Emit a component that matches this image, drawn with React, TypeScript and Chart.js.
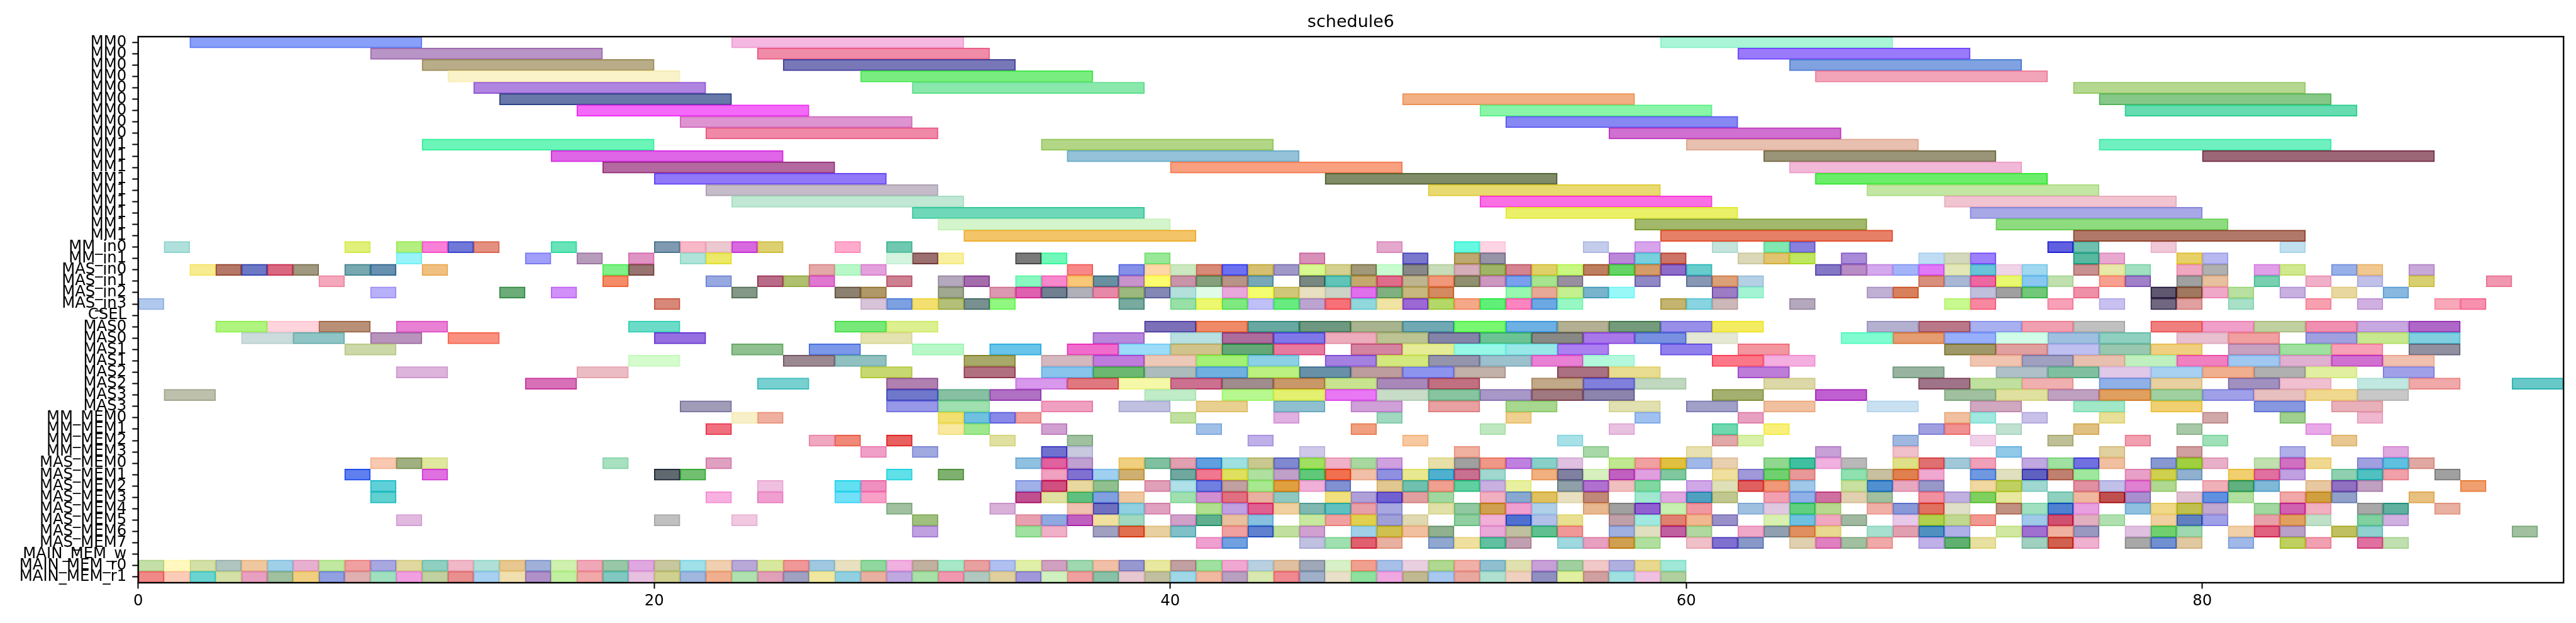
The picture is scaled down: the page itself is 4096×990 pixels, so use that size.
import React, { useEffect, useRef } from "react";
import { Chart, registerables } from "chart.js";
Chart.register(...registerables);

type Bar = [number, number, string];

const chartTitle = "schedule6";
const xTicks = [0, 20, 40, 60, 80];
const xMin = 0;
const xMax = 94;

const rowLabels = [
  "MM0", "MM0", "MM0", "MM0", "MM0", "MM0", "MM0", "MM0", "MM0",
  "MM1", "MM1", "MM1", "MM1", "MM1", "MM1", "MM1", "MM1", "MM1",
  "MM_in0", "MM_in1", "MAS_in0", "MAS_in1", "MAS_in2", "MAS_in3", "CSEL",
  "MAS0", "MAS0", "MAS1", "MAS1", "MAS2", "MAS2", "MAS3", "MAS3",
  "MM_MEM0", "MM_MEM1", "MM_MEM2", "MM_MEM3",
  "MAS_MEM0", "MAS_MEM1", "MAS_MEM2", "MAS_MEM3", "MAS_MEM4", "MAS_MEM5", "MAS_MEM6", "MAS_MEM7",
  "MAIN_MEM_w", "MAIN_MEM_r0", "MAIN_MEM_r1",
];

// MM0 rows
const r00: Bar[] = [[2, 11, "#89a0f8"], [23, 32, "#f5b8e0"], [59, 68, "#aaf5d8"]];
const r01: Bar[] = [[9, 18, "#b994c6"], [24, 33, "#f08ca8"], [62, 71, "#9a7afc"]];
const r02: Bar[] = [[11, 20, "#b8ad88"], [25, 34, "#7878b8"], [64, 73, "#80a2e0"]];
const r03: Bar[] = [[12, 21, "#faf2c8"], [28, 37, "#7aed80"], [65, 74, "#f2a4b8"]];
const r04: Bar[] = [[13, 22, "#b085e0"], [30, 39, "#8ae8ac"], [75, 84, "#b4d890"]];
const r05: Bar[] = [[14, 23, "#6878a8"], [49, 58, "#f2b084"], [76, 85, "#86c888"]];
const r06: Bar[] = [[17, 26, "#f46af8"], [52, 61, "#8af5a8"], [77, 86, "#66dcb0"]];
const r07: Bar[] = [[21, 30, "#de94d0"], [53, 62, "#8888f5"]];
const r08: Bar[] = [[22, 31, "#f088a8"], [57, 66, "#d070d0"]];
// MM1 rows
const r09: Bar[] = [[11, 20, "#6cf5b8"], [35, 44, "#b2d686"], [60, 69, "#e8c0b0"], [76, 85, "#70f0c0"]];
const r10: Bar[] = [[16, 25, "#e066e8"], [36, 45, "#94c2d8"], [63, 72, "#9a9478"], [80, 89, "#9c6878"]];
const r11: Bar[] = [[18, 27, "#b46aa0"], [40, 49, "#f8a080"], [64, 73, "#f2b8d8"]];
const r12: Bar[] = [[20, 29, "#9078f8"], [46, 55, "#808c68"], [65, 74, "#6ced6a"]];
const r13: Bar[] = [[22, 31, "#c4bcc8"], [50, 59, "#e8da70"], [67, 76, "#c4e6a4"]];
const r14: Bar[] = [[23, 32, "#c0e8d4"], [52, 61, "#fa70e4"], [70, 79, "#f0c4d0"]];
const r15: Bar[] = [[30, 39, "#6ed8b8"], [53, 62, "#eaf068"], [71, 80, "#a8a8e6"]];
const r16: Bar[] = [[31, 40, "#d4f5cc"], [58, 67, "#a2b86a"], [72, 81, "#8fdc80"]];
const r17: Bar[] = [[32, 41, "#f4c468"], [59, 68, "#e88068"], [75, 84, "#b07868"]];
// MM_in0
const r18: Bar[] = [[1, 2, "#b0e0dc"], [8, 9, "#e0f07a"], [10, 11, "#b4f080"], [11, 12, "#f880d8"], [12, 13, "#7078d8"], [13, 14, "#e49080"], [16, 17, "#68e4b8"], [20, 21, "#7e9ab0"], [21, 22, "#f8b8c8"], [22, 23, "#ecc8d0"], [23, 24, "#d868e0"], [24, 25, "#dcd070"], [27, 28, "#ffaacc"], [29, 30, "#70c8b0"], [48, 49, "#e4a8cc"], [51, 52, "#66f8e0"], [52, 53, "#ffd4e4"], [56, 57, "#c4cceb"], [58, 59, "#d8a4ec"], [61, 62, "#c4e4dc"], [63, 64, "#80e8b0"], [64, 65, "#8880dc"], [74, 75, "#6060e0"], [75, 76, "#70c0b0"], [78, 79, "#f0c8d8"], [83, 84, "#c0e0f0"]];
// MM_in1
const r19: Bar[] = [[10, 11, "#98f4f8"], [15, 16, "#a0a0f8"], [17, 18, "#b89cbc"], [19, 20, "#e094c4"], [21, 22, "#b0e4d8"], [22, 23, "#ece868"], [29, 30, "#d4f4e0"], [30, 31, "#9a7070"], [31, 32, "#f8f0a0"], [34, 35, "#7a7a7a"], [35, 36, "#70f8b8"], [39, 40, "#98e898"], [45, 46, "#d890b8"], [49, 50, "#7a78cc"], [51, 52, "#bca870"], [52, 53, "#9894a8"], [57, 58, "#bc88d8"], [58, 59, "#7ad0dc"], [59, 60, "#cc7468"], [62, 63, "#dad8b8"], [63, 64, "#e0c470"], [64, 65, "#c0e660"], [66, 67, "#a88ad8"], [69, 70, "#c0dcf4"], [70, 71, "#d4d8bc"], [71, 72, "#9c80fc"], [75, 76, "#58b8a0"], [76, 77, "#e8a8d0"], [79, 80, "#e8d068"], [80, 81, "#b8b8f0"]];
// MAS_in0
const r20: Bar[] = [[2, 3, "#f8ec90"], [3, 4, "#b47868"], [4, 5, "#6c78c4"], [5, 6, "#d86880"], [6, 7, "#a09880"], [8, 9, "#78a8b0"], [9, 10, "#6890b0"], [11, 12, "#f0c080"], [18, 19, "#80f088"], [19, 20, "#987470"], [26, 27, "#e4a8a8"], [27, 28, "#b8f8c8"], [28, 29, "#e4a0dc"], [36, 37, "#f88888"], [38, 39, "#8490e8"], [39, 40, "#ffd8a8"], [40, 41, "#cce8c0"], [41, 42, "#d88a78"], [42, 43, "#6a70f0"], [43, 44, "#d4c070"], [44, 45, "#a098c8"], [45, 46, "#d8f890"], [46, 47, "#d4d090"], [47, 48, "#a09878"], [48, 49, "#c8fcd0"], [49, 50, "#888888"], [50, 51, "#c8dcb8"], [51, 52, "#d4aeb8"], [52, 53, "#a0b468"], [53, 54, "#d48490"], [54, 55, "#e0d068"], [55, 56, "#c8f880"], [56, 57, "#bc8060"], [57, 58, "#64d464"], [58, 59, "#d49c68"], [59, 60, "#8c6cc8"], [60, 61, "#68cccc"], [65, 66, "#8478c4"], [66, 67, "#b88cc4"], [67, 68, "#d4a8ec"], [68, 69, "#a4b4f8"], [69, 70, "#e078f8"], [70, 71, "#e4e8b8"], [71, 72, "#68c4d8"], [72, 73, "#f0d4e8"], [73, 74, "#a0d8f0"], [75, 76, "#c89090"], [76, 77, "#e8e8a8"], [77, 78, "#a0e0c0"], [79, 80, "#f0a8c0"], [80, 81, "#b0b0b0"], [82, 83, "#e0a0e8"], [83, 84, "#d0e890"], [85, 86, "#98b0e8"], [86, 87, "#f0c890"], [88, 89, "#c8a8d8"]];
// MAS_in1
const r21: Bar[] = [[7, 8, "#f4a8bc"], [18, 19, "#f48c68"], [22, 23, "#98a8e0"], [24, 25, "#b86c88"], [25, 26, "#b0c070"], [26, 27, "#e078d0"], [29, 30, "#cc8090"], [31, 32, "#b4a8bc"], [32, 33, "#a46cac"], [34, 35, "#88f8c0"], [35, 36, "#f888cc"], [36, 37, "#f8c878"], [37, 38, "#6890a0"], [38, 39, "#c894cc"], [39, 40, "#fcfc70"], [40, 41, "#c894a8"], [41, 42, "#84a07c"], [42, 43, "#b89488"], [43, 44, "#78a8b8"], [45, 46, "#788880"], [46, 47, "#60c4b8"], [47, 48, "#c4a870"], [48, 49, "#e06c8c"], [49, 50, "#beb490"], [50, 51, "#f0987a"], [51, 52, "#909070"], [52, 53, "#cc98c0"], [53, 54, "#78a0ec"], [54, 55, "#a8e490"], [55, 56, "#9890a0"], [58, 59, "#9088c4"], [60, 61, "#8898b4"], [61, 62, "#dca078"], [62, 63, "#b4d0e4"], [69, 70, "#d8907c"], [70, 71, "#a8b8d4"], [71, 72, "#ec68a0"], [72, 73, "#e8f870"], [73, 74, "#88c8f0"], [74, 75, "#c0e0b0"], [76, 77, "#f8a090"], [77, 78, "#a080c8"], [79, 80, "#a0a0a0"], [80, 81, "#e8c0a0"], [82, 83, "#78d0b0"], [84, 85, "#f0b0c8"], [86, 87, "#c0c0e8"], [88, 89, "#d8d070"], [91, 92, "#f098b0"]];
// MAS_in2
const r22: Bar[] = [[9, 10, "#b8b0f8"], [14, 15, "#6cac78"], [16, 17, "#d090f8"], [23, 24, "#849888"], [27, 28, "#8c8070"], [28, 29, "#b09868"], [31, 32, "#a0a890"], [33, 34, "#dc98b0"], [34, 35, "#e060b0"], [35, 36, "#708090"], [36, 37, "#b0b0b8"], [37, 38, "#e888a8"], [38, 39, "#9cb880"], [39, 40, "#8488b4"], [40, 41, "#b4e0dc"], [41, 42, "#e0fce8"], [42, 43, "#e8a8dc"], [43, 44, "#f4fc70"], [44, 45, "#d0c878"], [45, 46, "#e8e0c0"], [46, 47, "#ccd4c8"], [47, 48, "#e070ec"], [48, 49, "#80b080"], [49, 50, "#c8b880"], [50, 51, "#d48a60"], [53, 54, "#98f8b0"], [54, 55, "#e8a898"], [55, 56, "#c4f090"], [56, 57, "#78b4cc"], [57, 58, "#98f8f8"], [61, 62, "#9c7cc4"], [62, 63, "#a4f4d4"], [67, 68, "#c0b0d4"], [68, 69, "#d8805c"], [71, 72, "#c0c0dc"], [72, 73, "#a0a0a0"], [73, 74, "#70c878"], [75, 76, "#f090a8"], [78, 79, "#605870"], [79, 80, "#a07860"], [80, 81, "#f0a8c8"], [81, 82, "#b8e0a0"], [83, 84, "#c8b0e0"], [85, 86, "#e8d8a0"], [87, 88, "#88b8e0"]];
// MAS_in3
const r23: Bar[] = [[0, 1, "#b0c8ec"], [20, 21, "#d88878"], [28, 29, "#d8c4d8"], [29, 30, "#7ca0e0"], [30, 31, "#f4e070"], [31, 32, "#b4c078"], [32, 33, "#789090"], [33, 34, "#90f880"], [38, 39, "#78aaa0"], [40, 41, "#98e0a8"], [41, 42, "#ecf870"], [42, 43, "#80e880"], [43, 44, "#c0c0f8"], [44, 45, "#68ec80"], [45, 46, "#bca4d0"], [46, 47, "#f87078"], [47, 48, "#90d8dc"], [48, 49, "#f0e4a4"], [49, 50, "#9c68d4"], [50, 51, "#b4d868"], [51, 52, "#f4a888"], [52, 53, "#60f078"], [53, 54, "#fc84c0"], [54, 55, "#6ca8e4"], [55, 56, "#98f8c4"], [59, 60, "#c4b470"], [60, 61, "#88d4e0"], [61, 62, "#ccb8b8"], [64, 65, "#b4a8bc"], [70, 71, "#c8f890"], [71, 72, "#f888a0"], [74, 75, "#f8a0b8"], [76, 77, "#c8c0f0"], [78, 79, "#706880"], [79, 80, "#e0a0a0"], [81, 82, "#a8e0c8"], [84, 85, "#f8a0b0"], [86, 87, "#d0b0e0"], [89, 90, "#f8a8b8"], [90, 91, "#f890b0"]];
// CSEL
const r24: Bar[] = [];
// MAS0
const r25: Bar[] = [[3, 5, "#b0f480"], [5, 7, "#ffd4dc"], [7, 9, "#b89078"], [10, 12, "#e880d4"], [19, 21, "#6cdcc8"], [27, 29, "#78e878"], [29, 31, "#dcf090"], [39, 41, "#7c70b8"], [41, 43, "#ee8a68"], [43, 45, "#68a8a0"], [45, 47, "#6e9880"], [47, 49, "#a8b490"], [49, 51, "#70a8b4"], [51, 53, "#78f870"], [53, 55, "#6cb0e4"], [55, 57, "#b4b094"], [57, 59, "#749c7c"], [59, 61, "#9890e8"], [61, 63, "#f4ec60"], [67, 69, "#b4b0d0"], [69, 71, "#b87888"], [71, 73, "#a8b0f0"], [73, 75, "#f0a0b0"], [75, 77, "#c0c0c0"], [78, 80, "#f08080"], [80, 82, "#f0a0c8"], [82, 84, "#c0d0a0"], [84, 86, "#f090b0"], [86, 88, "#c8a8e0"], [88, 90, "#b068c8"]];
const r26: Bar[] = [[4, 6, "#ccdcdc"], [6, 8, "#90c4c4"], [9, 11, "#b894bc"], [12, 14, "#fa9080"], [20, 22, "#9470e0"], [28, 30, "#e4e2b0"], [37, 39, "#b888dc"], [40, 42, "#b8e0e0"], [42, 44, "#ac6c9c"], [44, 46, "#8078e8"], [46, 48, "#ecacbc"], [48, 50, "#bcc494"], [50, 52, "#8484a8"], [52, 54, "#6cc494"], [54, 56, "#888884"], [56, 58, "#a878e8"], [58, 60, "#7890e0"], [60, 62, "#e4e8d4"], [66, 68, "#80fcd0"], [68, 70, "#e49c70"], [70, 72, "#98b0fc"], [72, 74, "#d0fce8"], [74, 76, "#a0c0e0"], [76, 78, "#90d0c0"], [79, 81, "#e8c0d0"], [81, 83, "#f0a0a0"], [84, 86, "#a0a0e0"], [86, 88, "#c8e890"], [88, 90, "#80d0e0"]];
// MAS1
const r27: Bar[] = [[8, 10, "#ccd8a8"], [23, 25, "#90c090"], [26, 28, "#7c98e8"], [30, 32, "#b8f8c8"], [33, 35, "#68c4e8"], [36, 38, "#f06ccc"], [38, 40, "#9cdcf8"], [40, 42, "#d0c48c"], [42, 44, "#64a878"], [44, 46, "#e87aa0"], [47, 49, "#d484a0"], [49, 51, "#e4ec98"], [51, 53, "#98f8e8"], [53, 55, "#98e8e8"], [55, 57, "#ac80f0"], [59, 61, "#9080ec"], [62, 64, "#f496a0"], [70, 72, "#a09868"], [72, 74, "#e0a0a0"], [74, 76, "#c0c0f0"], [76, 78, "#98c8b0"], [78, 80, "#f0d080"], [81, 83, "#c8a0c0"], [83, 85, "#a0e0a0"], [85, 87, "#f8a0b8"], [88, 90, "#9090a0"]];
const r28: Bar[] = [[19, 21, "#d4fccc"], [25, 27, "#9c8890"], [27, 29, "#90c0c0"], [32, 34, "#a8a868"], [35, 37, "#d4b8c0"], [37, 39, "#c07cdc"], [39, 41, "#ecc8b8"], [41, 43, "#a4f078"], [43, 45, "#8cd0e4"], [46, 48, "#a480e0"], [48, 50, "#d4e880"], [50, 52, "#9494ac"], [52, 54, "#9cc0cc"], [54, 56, "#e880d4"], [56, 58, "#b4f8dc"], [61, 63, "#fc7888"], [63, 65, "#f4aee0"], [71, 73, "#f0c4b0"], [73, 75, "#a0a0c0"], [75, 77, "#e8c0b0"], [77, 79, "#c0f0c0"], [79, 81, "#f080c0"], [81, 83, "#a0c8f0"], [83, 85, "#e0b0d0"], [85, 87, "#d070d0"], [87, 89, "#f0c0b0"]];
// MAS2
const r29: Bar[] = [[10, 12, "#dcb4dc"], [17, 19, "#ecbcc4"], [28, 30, "#c8d870"], [32, 34, "#b07080"], [35, 37, "#88c4ec"], [37, 39, "#6cb870"], [39, 41, "#acbcbc"], [41, 43, "#70b0e0"], [43, 45, "#bcf080"], [45, 47, "#6890a8"], [47, 49, "#bc9c9c"], [49, 51, "#8c94f0"], [51, 53, "#c0b0a8"], [55, 57, "#a87080"], [57, 59, "#e8dc90"], [62, 64, "#bc7cd8"], [68, 70, "#98b4a0"], [72, 74, "#b0c0c8"], [74, 76, "#80c0a0"], [76, 78, "#e0c8e8"], [78, 80, "#a8d0f0"], [80, 82, "#f0b090"], [82, 84, "#b0b0b0"], [84, 86, "#e0f0a0"], [87, 89, "#a0a0e8"]];
const r30: Bar[] = [[15, 17, "#d870b8"], [24, 26, "#78d0d0"], [29, 31, "#b080b0"], [34, 36, "#d898ec"], [36, 38, "#e07880"], [38, 40, "#f4f8a8"], [40, 42, "#cc7090"], [42, 44, "#a08c8c"], [44, 46, "#c89868"], [46, 48, "#c8e490"], [48, 50, "#a888b8"], [50, 52, "#c07080"], [54, 56, "#c0a888"], [56, 58, "#8080dc"], [58, 60, "#c0d8c0"], [63, 65, "#dcd8a8"], [69, 71, "#a07488"], [71, 73, "#c0e0a0"], [73, 75, "#f0b0b0"], [76, 78, "#90b0e8"], [78, 80, "#e8d0a0"], [81, 83, "#a090c0"], [83, 85, "#f0c0d0"], [86, 88, "#c0e8e0"], [88, 90, "#f0a8a8"], [92, 94, "#68c8c8"]];
// MAS3
const r31: Bar[] = [[1, 3, "#bcc0ac"], [29, 31, "#7078cc"], [31, 33, "#88c0a4"], [33, 35, "#b070c4"], [39, 41, "#c0ecc8"], [42, 44, "#b8f890"], [44, 46, "#e4f070"], [46, 48, "#e878f4"], [48, 50, "#c8dcc8"], [50, 52, "#88c4a0"], [52, 54, "#a898c8"], [54, 56, "#a07880"], [56, 58, "#8c84ac"], [61, 63, "#a4b070"], [65, 67, "#c060d0"], [70, 72, "#a0c0a0"], [72, 74, "#e0e0a0"], [74, 76, "#c0a0c0"], [76, 78, "#e0a060"], [78, 80, "#a0d0a0"], [80, 82, "#a0a0e8"], [82, 84, "#e8c0c0"], [84, 86, "#f0d890"], [86, 88, "#c8c8c8"]];
const r32: Bar[] = [[21, 23, "#a09cb8"], [29, 31, "#9898e8"], [31, 33, "#a0e0b0"], [35, 37, "#f0a0c0"], [38, 40, "#c0c0e0"], [41, 43, "#e8d090"], [44, 46, "#90c0d0"], [47, 49, "#d0a0d8"], [50, 52, "#e8a0a0"], [53, 55, "#a8d890"], [57, 59, "#e0e0b0"], [60, 62, "#a0a0c8"], [63, 65, "#f0c0a0"], [67, 69, "#c8e0f0"], [71, 73, "#d0a8c0"], [75, 77, "#a0e8c8"], [78, 80, "#f0d070"], [82, 84, "#8898e0"], [85, 87, "#e8b0b8"]];
// MM_MEM0..3
const r33: Bar[] = [[23, 24, "#f8f0c8"], [24, 25, "#f0b0a0"], [31, 32, "#f0e070"], [32, 33, "#70c0e0"], [33, 34, "#8888e8"], [34, 35, "#f0a0a0"], [40, 41, "#c0e0a0"], [44, 45, "#e0b0e0"], [48, 49, "#a0d8c0"], [53, 54, "#f0d090"], [58, 59, "#a0c0f0"], [62, 63, "#e8a0c0"], [70, 71, "#f0c0a0"], [71, 72, "#a0e8e0"], [73, 74, "#c8c0e8"], [76, 77, "#e8e098"], [80, 81, "#d0a8a8"], [83, 84, "#a0d090"], [86, 87, "#f0b8d0"]];
const r34: Bar[] = [[22, 23, "#f07080"], [31, 32, "#f8e8a0"], [32, 33, "#a0e890"], [35, 36, "#d0a0d0"], [41, 42, "#a0c0e8"], [47, 48, "#f0a080"], [52, 53, "#c0e8c0"], [57, 58, "#e8c0e0"], [61, 62, "#70d8b0"], [63, 64, "#f8f078"], [69, 70, "#a0a0e0"], [70, 71, "#f09090"], [72, 73, "#c0e0d0"], [75, 76, "#e0c080"], [79, 80, "#a8c8a8"], [84, 85, "#e8a8e8"]];
const r35: Bar[] = [[26, 27, "#f0a8c0"], [27, 28, "#f08878"], [29, 30, "#e86060"], [33, 34, "#e0e0a0"], [36, 37, "#a0c0a0"], [43, 44, "#c0b0e8"], [49, 50, "#f8c8a0"], [55, 56, "#a8e0e8"], [61, 62, "#e0a8a8"], [62, 63, "#d8f0a8"], [68, 69, "#a0b8e0"], [71, 72, "#f0d0e8"], [74, 75, "#c0c098"], [77, 78, "#f0a0b0"], [80, 81, "#a0e0b8"], [85, 86, "#e8c890"]];
const r36: Bar[] = [[28, 29, "#f0a0c8"], [30, 31, "#a0a8e0"], [35, 36, "#7070d0"], [36, 37, "#c8c8e0"], [45, 46, "#d0c8e8"], [51, 52, "#f0b0a0"], [56, 57, "#a8d8a8"], [60, 61, "#e8e0b0"], [65, 66, "#c8a0d8"], [68, 69, "#f0c0c8"], [72, 73, "#90c8e8"], [76, 77, "#e0d0a0"], [79, 80, "#d0a0a0"], [83, 84, "#b0b0e8"], [87, 88, "#e0a8e0"]];
// MAS_MEM0..7
const r37: Bar[] = [[9, 10, "#f8c8b0"], [10, 11, "#a0b080"], [11, 12, "#e0e8a0"], [18, 19, "#a8e0c0"], [22, 23, "#e0a0c0"], [34, 35, "#90c0e0"], [35, 36, "#e060a0"], [36, 37, "#c0a0d0"], [38, 39, "#f0d080"], [39, 40, "#80c0a0"], [40, 41, "#e0a0b0"], [41, 42, "#60a0e0"], [42, 43, "#a0e0e0"], [43, 44, "#c8c890"], [44, 45, "#8088d0"], [45, 46, "#a0e060"], [46, 47, "#f0b0c8"], [47, 48, "#a8d8a0"], [48, 49, "#d0a0e0"], [50, 51, "#e8e0a8"], [51, 52, "#a0a0a0"], [52, 53, "#f09888"], [53, 54, "#c080e0"], [54, 55, "#88d0c8"], [55, 56, "#e0c0e0"], [57, 58, "#c0e890"], [58, 59, "#f0a0a0"], [59, 60, "#e0c040"], [60, 61, "#a0b8e8"], [61, 62, "#e8d0b0"], [63, 64, "#90d890"], [64, 65, "#40c0a0"], [65, 66, "#f0b0e0"], [66, 67, "#b8b8b8"], [68, 69, "#e0e088"], [69, 70, "#e07070"], [70, 71, "#a0c8d8"], [71, 72, "#f0a0b8"], [73, 74, "#c0a8e0"], [74, 75, "#a0e0a0"], [75, 76, "#7070e0"], [76, 77, "#f0c0a0"], [78, 79, "#8898d0"], [79, 80, "#a0d040"], [80, 81, "#e8b0c8"], [82, 83, "#c0e0b0"], [83, 84, "#d070c0"], [84, 85, "#f0d890"], [86, 87, "#a0a0e0"], [87, 88, "#60c0e0"], [88, 89, "#e0a8a0"]];
const r38: Bar[] = [[8, 9, "#6080f0"], [11, 12, "#e070e0"], [20, 21, "#606870"], [21, 22, "#70c070"], [29, 30, "#60e0e8"], [31, 32, "#80b070"], [35, 36, "#f0a0c0"], [36, 37, "#8070d0"], [37, 38, "#a0d0f0"], [38, 39, "#d0b070"], [40, 41, "#70a8a0"], [41, 42, "#f07890"], [42, 43, "#e0e060"], [43, 44, "#b0e0a0"], [44, 45, "#c0a0c8"], [45, 46, "#60c878"], [46, 47, "#f07050"], [47, 48, "#f0c0a8"], [48, 49, "#9090e0"], [49, 50, "#e8e890"], [50, 51, "#50b0d0"], [51, 52, "#c87090"], [52, 53, "#a0d8d0"], [54, 55, "#f0b080"], [55, 56, "#8080a0"], [56, 57, "#d8f0c0"], [57, 58, "#c060c0"], [58, 59, "#e0a0e0"], [59, 60, "#80c8a0"], [61, 62, "#f0e0a0"], [62, 63, "#a098d8"], [63, 64, "#70d070"], [64, 65, "#e89898"], [66, 67, "#90e0b0"], [67, 68, "#c8c0a0"], [68, 69, "#e08050"], [69, 70, "#f0a8d0"], [71, 72, "#7098e0"], [72, 73, "#e0e0c0"], [73, 74, "#6060c0"], [74, 75, "#c08070"], [75, 76, "#a0e8a0"], [77, 78, "#e8a0c8"], [78, 79, "#d0d050"], [79, 80, "#90b0d0"], [81, 82, "#f0d070"], [82, 83, "#e070a0"], [83, 84, "#c0a0e0"], [85, 86, "#90d0b0"], [86, 87, "#50c0c0"], [87, 88, "#f0a0a8"], [89, 90, "#a0a0a0"]];
const r39: Bar[] = [[9, 10, "#60d0d8"], [24, 25, "#f0c0e0"], [27, 28, "#60e0f0"], [28, 29, "#f090c0"], [34, 35, "#a0b0e8"], [35, 36, "#d05080"], [36, 37, "#e8d8a0"], [37, 38, "#90c090"], [39, 40, "#e0a0b8"], [40, 41, "#b0e0e8"], [41, 42, "#7080e0"], [42, 43, "#c0a0a0"], [43, 44, "#a8e890"], [44, 45, "#e0a040"], [45, 46, "#f0b0d8"], [46, 47, "#8090d0"], [48, 49, "#e0c890"], [49, 50, "#70c0b0"], [50, 51, "#f0a090"], [51, 52, "#60d0a0"], [52, 53, "#c8b0e0"], [53, 54, "#e8f0a0"], [55, 56, "#90a0a8"], [56, 57, "#b070d0"], [57, 58, "#f0c0c0"], [58, 59, "#80d8a0"], [60, 61, "#d0a8e8"], [61, 62, "#e0e0b8"], [62, 63, "#e06060"], [63, 64, "#f09878"], [64, 65, "#a0c8e8"], [66, 67, "#c8e0a0"], [67, 68, "#5090d0"], [68, 69, "#e8a8c0"], [69, 70, "#9898c8"], [71, 72, "#f0d8a0"], [72, 73, "#c0d060"], [73, 74, "#a0d8d0"], [75, 76, "#e090a0"], [76, 77, "#c0c0e8"], [77, 78, "#e080d0"], [78, 79, "#b0d890"], [80, 81, "#f0b0b8"], [81, 82, "#60b080"], [82, 83, "#80b8d8"], [84, 85, "#e8c8a0"], [85, 86, "#9070c0"], [86, 87, "#c0a0c0"], [90, 91, "#f0a070"]];
const r40: Bar[] = [[9, 10, "#60d0d0"], [22, 23, "#f8b0e0"], [24, 25, "#f0a0d0"], [27, 28, "#70e0f8"], [28, 29, "#f8a0c8"], [34, 35, "#c05090"], [35, 36, "#e0e0a0"], [36, 37, "#60c080"], [37, 38, "#80a0e0"], [38, 39, "#f0c8a0"], [40, 41, "#a0e0b0"], [41, 42, "#d090d0"], [42, 43, "#e07080"], [43, 44, "#e8b0a0"], [44, 45, "#90c8c0"], [46, 47, "#f0e080"], [47, 48, "#b0a0d8"], [48, 49, "#7060d0"], [49, 50, "#e0a0a0"], [50, 51, "#a0d8a0"], [52, 53, "#f0b0c0"], [53, 54, "#88a8d0"], [54, 55, "#e0c060"], [55, 56, "#e8e0c0"], [56, 57, "#c08878"], [58, 59, "#a0e8d0"], [59, 60, "#e0a8e0"], [60, 61, "#50a0c0"], [61, 62, "#c0c890"], [63, 64, "#f0a0b0"], [64, 65, "#90b0e8"], [65, 66, "#d070a0"], [66, 67, "#e0d0b0"], [67, 68, "#a0c0a0"], [69, 70, "#f090a0"], [70, 71, "#c0b0e0"], [71, 72, "#80d060"], [72, 73, "#e8e8a0"], [74, 75, "#90d0c0"], [75, 76, "#f0b8a0"], [76, 77, "#c05050"], [77, 78, "#a890d0"], [79, 80, "#e0c0d0"], [80, 81, "#6090e0"], [81, 82, "#b0e0a0"], [83, 84, "#f0a8a8"], [84, 85, "#d0a040"], [85, 86, "#90a0c8"], [88, 89, "#e8c080"]];
const r41: Bar[] = [[29, 30, "#a0c0a0"], [33, 34, "#d8b0d8"], [36, 37, "#f0c0b0"], [37, 38, "#7070c0"], [38, 39, "#90d0e0"], [39, 40, "#e0a0c0"], [41, 42, "#b0e090"], [42, 43, "#c0a0e0"], [43, 44, "#e06090"], [44, 45, "#f0d0a0"], [45, 46, "#80b8b0"], [46, 47, "#60c0c0"], [47, 48, "#e8a0a8"], [48, 49, "#a8a8e0"], [50, 51, "#e0e0a8"], [51, 52, "#90c8a0"], [52, 53, "#d0a050"], [53, 54, "#f0a0d0"], [54, 55, "#b0d0e8"], [56, 57, "#e8b890"], [57, 58, "#a0a0a0"], [58, 59, "#9060d0"], [59, 60, "#c8f0b0"], [60, 61, "#f098a0"], [62, 63, "#a0c0e0"], [63, 64, "#e0c8e0"], [64, 65, "#60d080"], [65, 66, "#b8d890"], [67, 68, "#f0b0a8"], [68, 69, "#8898d8"], [69, 70, "#e07060"], [70, 71, "#e0e0c8"], [72, 73, "#c09080"], [73, 74, "#a0e0c0"], [74, 75, "#5080d0"], [75, 76, "#e8a0e0"], [77, 78, "#90c0e0"], [78, 79, "#f0d888"], [79, 80, "#c0c050"], [80, 81, "#c0a8d0"], [82, 83, "#a0d8a0"], [83, 84, "#d060b0"], [84, 85, "#f0b0c0"], [86, 87, "#a8a8a8"], [87, 88, "#60b0a0"], [89, 90, "#e8b0a0"]];
const r42: Bar[] = [[10, 11, "#e0b8e0"], [20, 21, "#c0c0c0"], [23, 24, "#f0c8e0"], [30, 31, "#a0c080"], [34, 35, "#e8a0b0"], [35, 36, "#90a8e0"], [36, 37, "#c060c0"], [37, 38, "#f0e0a0"], [38, 39, "#a0d8c0"], [40, 41, "#d0a0c8"], [41, 42, "#60b090"], [42, 43, "#e8c0a0"], [43, 44, "#88c0e0"], [45, 46, "#c8e8a0"], [46, 47, "#f0a0a0"], [47, 48, "#e0d050"], [48, 49, "#a0a0d8"], [49, 50, "#e0d8b0"], [51, 52, "#90d0a0"], [52, 53, "#f0b0d8"], [53, 54, "#5070d0"], [54, 55, "#b0c0e8"], [55, 56, "#e8e090"], [57, 58, "#c0a0a8"], [58, 59, "#a0e8e0"], [59, 60, "#e08070"], [60, 61, "#f0b890"], [61, 62, "#9890c8"], [63, 64, "#d8f0b0"], [64, 65, "#70c0e0"], [65, 66, "#f0a8c0"], [66, 67, "#a0b8a0"], [68, 69, "#e8c8e8"], [69, 70, "#b0d050"], [70, 71, "#c0d890"], [71, 72, "#f09890"], [73, 74, "#a0c8e8"], [74, 75, "#d05070"], [75, 76, "#e0b0c0"], [76, 77, "#b0e0b0"], [78, 79, "#f0d0a0"], [79, 80, "#6080c0"], [80, 81, "#a0a0e8"], [82, 83, "#e8a0a8"], [83, 84, "#e0a060"], [84, 85, "#c0e0c8"], [86, 87, "#80d0a0"], [87, 88, "#d0b0e0"]];
const r43: Bar[] = [[30, 31, "#c0a0e0"], [34, 35, "#a0e0a0"], [35, 36, "#f0b0c8"], [37, 38, "#a0a0c0"], [38, 39, "#e07050"], [39, 40, "#e8d0a0"], [40, 41, "#80c0c8"], [42, 43, "#f0a0a0"], [43, 44, "#6080d0"], [44, 45, "#c0e0a0"], [45, 46, "#d0a0d0"], [47, 48, "#a0d0e8"], [48, 49, "#d0c050"], [49, 50, "#f0c0a0"], [50, 51, "#90b090"], [52, 53, "#e8a8d8"], [53, 54, "#c0c0a0"], [54, 55, "#60c090"], [55, 56, "#f09898"], [57, 58, "#a0b0e0"], [58, 59, "#e0e0c0"], [59, 60, "#c060a0"], [60, 61, "#b0d8a0"], [62, 63, "#f0a8c8"], [63, 64, "#90a0b0"], [64, 65, "#e09060"], [65, 66, "#e8d890"], [67, 68, "#a8e0d0"], [68, 69, "#e0a0b0"], [69, 70, "#5090c0"], [70, 71, "#b0b0e8"], [72, 73, "#d0e8a0"], [73, 74, "#a070d0"], [74, 75, "#f0b0a0"], [75, 76, "#9898c0"], [77, 78, "#e0c0e0"], [78, 79, "#70d070"], [79, 80, "#a0d8b0"], [81, 82, "#f0d0a8"], [82, 83, "#e06080"], [83, 84, "#b8a0c8"], [85, 86, "#c0c060"], [86, 87, "#90d0d0"], [92, 93, "#a0c0a0"]];
const r44: Bar[] = [[41, 42, "#f0a0d0"], [42, 43, "#70a0e0"], [45, 46, "#c0c0e0"], [46, 47, "#a0e0b0"], [47, 48, "#e06070"], [48, 49, "#e8b0a0"], [50, 51, "#90a8d0"], [51, 52, "#f0e0a0"], [52, 53, "#60c0a0"], [53, 54, "#c0a0b0"], [55, 56, "#a0d8e0"], [56, 57, "#e8a0c0"], [57, 58, "#d0a050"], [58, 59, "#b0e0a0"], [60, 61, "#f0c0c8"], [61, 62, "#8070d0"], [62, 63, "#8898c8"], [64, 65, "#e0d0b0"], [65, 66, "#e080c0"], [66, 67, "#a0c0a0"], [67, 68, "#f0a8a8"], [69, 70, "#c0b0e8"], [70, 71, "#60b070"], [71, 72, "#e8e0a0"], [73, 74, "#a0d0c0"], [74, 75, "#d06050"], [75, 76, "#f0b0d0"], [77, 78, "#a8a8a8"], [78, 79, "#7090d0"], [79, 80, "#e0c8a0"], [81, 82, "#a0b8e8"], [83, 84, "#c0d060"], [84, 85, "#f0a0b0"], [86, 87, "#e070a0"], [87, 88, "#c0e0b0"]];
// MAIN_MEM
const r45: Bar[] = [];
const r46: Bar[] = [[0, 1, "#c4e0a8"], [1, 2, "#fff8c0"], [2, 3, "#d4e0a8"], [3, 4, "#b0c4c0"], [4, 5, "#f0c8a0"], [5, 6, "#a0d0e8"], [6, 7, "#e8b0d0"], [7, 8, "#c0e8a0"], [8, 9, "#f0a0a0"], [9, 10, "#a8a8e0"], [10, 11, "#e0d8a0"], [11, 12, "#90d0c0"], [12, 13, "#f0b8c8"], [13, 14, "#b0e0d8"], [14, 15, "#e8c890"], [15, 16, "#a0b0d8"], [16, 17, "#d0f0b0"], [17, 18, "#f0a8b8"], [18, 19, "#98c8a8"], [19, 20, "#e0a8e0"], [20, 21, "#c8c8a0"], [21, 22, "#a0e0e8"], [22, 23, "#f0d0b0"], [23, 24, "#b8a8d8"], [24, 25, "#d8e8a0"], [25, 26, "#f09898"], [26, 27, "#a0c8e0"], [27, 28, "#e8e0c0"], [28, 29, "#90d8a0"], [29, 30, "#f0b0e0"], [30, 31, "#c0b0a0"], [31, 32, "#a8e8c8"], [32, 33, "#e8a0a0"], [33, 34, "#b0c0f0"], [34, 35, "#e0f0a8"], [35, 36, "#d0a0c0"], [36, 37, "#a0d8b0"], [37, 38, "#f0c0a8"], [38, 39, "#9898d0"], [39, 40, "#e8e8a0"], [40, 41, "#c0a0a0"], [41, 42, "#a0e0a0"], [42, 43, "#f0a8d0"], [43, 44, "#b8d0e0"], [44, 45, "#e0c0a0"], [45, 46, "#a0a8b8"], [46, 47, "#d8f0c8"], [47, 48, "#f0a090"], [48, 49, "#a8c0e8"], [49, 50, "#e8d0e0"], [50, 51, "#b0d890"], [51, 52, "#f0b0a8"], [52, 53, "#90c0d0"], [53, 54, "#e0e0b0"], [54, 55, "#c8a0d8"], [55, 56, "#a0d0a0"], [56, 57, "#f0c8c8"], [57, 58, "#b0b0e0"], [58, 59, "#e8d890"], [59, 60, "#a0e8d8"]];
const r47: Bar[] = [[0, 1, "#f08888"], [1, 2, "#fcccb8"], [2, 3, "#6cd4d0"], [3, 4, "#d4e0a8"], [4, 5, "#e8a0c0"], [5, 6, "#a0c0a0"], [6, 7, "#f0d080"], [7, 8, "#90a0e0"], [8, 9, "#e0b0b0"], [9, 10, "#a0e0c0"], [10, 11, "#f0a0e0"], [11, 12, "#c0d0a0"], [12, 13, "#e89090"], [13, 14, "#a8d0f0"], [14, 15, "#f0e0b0"], [15, 16, "#b090c8"], [16, 17, "#c0f0a0"], [17, 18, "#f0a8a8"], [18, 19, "#80c8c0"], [19, 20, "#e8c0e0"], [20, 21, "#d0d090"], [21, 22, "#a0b8e0"], [22, 23, "#f0b090"], [23, 24, "#b0e0b0"], [24, 25, "#e0a0b8"], [25, 26, "#a0a0c0"], [26, 27, "#f0e8a0"], [27, 28, "#90d0e0"], [28, 29, "#e8b0a0"], [29, 30, "#c0a8e0"], [30, 31, "#a8e0a8"], [31, 32, "#f098b0"], [32, 33, "#b0c8c0"], [33, 34, "#e0d0a0"], [34, 35, "#a098d8"], [35, 36, "#d0f0c0"], [36, 37, "#f0a0a0"], [37, 38, "#88c0a8"], [38, 39, "#e8c8d0"], [39, 40, "#c0c0a0"], [40, 41, "#a0d8e8"], [41, 42, "#f0b8a0"], [42, 43, "#b8a0c0"], [43, 44, "#d8e8b0"], [44, 45, "#f08890"], [45, 46, "#a0b0c8"], [46, 47, "#e8e0c8"], [47, 48, "#90e0a0"], [48, 49, "#f0a8e0"], [49, 50, "#c0b890"], [50, 51, "#a8c8f0"], [51, 52, "#e8a8a0"], [52, 53, "#b0e0d0"], [53, 54, "#f0d0c0"], [54, 55, "#9090c0"], [55, 56, "#e0f0a0"], [56, 57, "#d0a0a0"], [57, 58, "#a0e0e0"], [58, 59, "#f0c0e0"], [59, 60, "#b0d0a0"]];

const rows: Bar[][] = [
  r00, r01, r02, r03, r04, r05, r06, r07, r08, r09, r10, r11, r12, r13, r14, r15,
  r16, r17, r18, r19, r20, r21, r22, r23, r24, r25, r26, r27, r28, r29, r30, r31,
  r32, r33, r34, r35, r36, r37, r38, r39, r40, r41, r42, r43, r44, r45, r46, r47,
];

const FONT = "'DejaVu Sans', sans-serif";

function edgeOf(hex: string): string {
  const n = parseInt(hex.slice(1), 16);
  const ch = [(n >> 16) & 255, (n >> 8) & 255, n & 255].map((v) =>
    Math.max(0, Math.min(255, Math.round(1.4 * v - 102)))
  );
  return `rgb(${ch[0]},${ch[1]},${ch[2]})`;
}

const framePlugin = {
  id: "frame",
  afterDraw(chart: any) {
    const { ctx, chartArea: a } = chart;
    ctx.save();
    ctx.strokeStyle = "#000";
    ctx.lineWidth = 2.4;
    ctx.strokeRect(a.left, a.top, a.right - a.left, a.bottom - a.top);
    ctx.restore();
  },
};

const titlePlugin = {
  id: "mplTitle",
  afterDraw(chart: any) {
    const { ctx, chartArea: a } = chart;
    ctx.save();
    ctx.fillStyle = "#000";
    ctx.font = `27px ${FONT}`;
    ctx.textAlign = "center";
    ctx.textBaseline = "alphabetic";
    ctx.fillText(chartTitle, (a.left + a.right) / 2, 43);
    ctx.restore();
  },
};

export default function App() {
  const ref = useRef<HTMLCanvasElement>(null);
  useEffect(() => {
    document.body.style.margin = "0";
    const maxBars = Math.max(...rows.map((r) => r.length));
    const datasets: any[] = [];
    for (let k = 0; k < maxBars; k++) {
      datasets.push({
        data: rows.map((r) => (r[k] ? [r[k][0], r[k][1]] : null)),
        backgroundColor: rows.map((r) => (r[k] ? r[k][2] : "rgba(0,0,0,0)")),
        borderColor: rows.map((r) => (r[k] ? edgeOf(r[k][2]) : "rgba(0,0,0,0)")),
        borderWidth: 2,
        borderSkipped: false,
        grouped: false,
        barPercentage: 1,
        categoryPercentage: 1,
      });
    }
    const chart = new Chart(ref.current as HTMLCanvasElement, {
      type: "bar",
      data: { labels: rowLabels, datasets },
      options: {
        indexAxis: "y",
        responsive: false,
        animation: false,
        devicePixelRatio: 1,
        layout: { padding: { top: 58.2, right: 19.8, left: 0, bottom: 0 } },
        plugins: {
          legend: { display: false },
          tooltip: { enabled: false },
          title: { display: false },
        },
        scales: {
          x: {
            type: "linear",
            position: "bottom",
            min: xMin,
            max: xMax,
            grid: {
              drawOnChartArea: false,
              drawTicks: true,
              tickLength: 9.4,
              tickWidth: 2,
              tickColor: "#000",
            },
            border: { display: false },
            ticks: {
              stepSize: 20,
              includeBounds: false,
              autoSkip: false,
              maxRotation: 0,
              color: "#000",
              padding: 6,
              font: { family: FONT, size: 24.4 },
              callback: (v: any) => (xTicks.includes(Number(v)) ? String(v) : null),
            },
            afterFit: (s: any) => {
              s.height = 64;
            },
          },
          y: {
            type: "category",
            position: "left",
            offset: true,
            grid: {
              offset: false,
              drawOnChartArea: false,
              drawTicks: true,
              tickLength: 9.4,
              tickWidth: 2,
              tickColor: "#000",
            },
            border: { display: false },
            ticks: {
              autoSkip: false,
              color: "#000",
              padding: 9,
              font: { family: FONT, size: 24.4 },
            },
            afterFit: (s: any) => {
              s.width = 219.7;
            },
          },
        },
      } as any,
      plugins: [framePlugin, titlePlugin],
    });
    return () => chart.destroy();
  }, []);
  return (
    <canvas
      ref={ref}
      width={4096}
      height={990}
      style={{ display: "block", width: 4096, height: 990 }}
    />
  );
}
